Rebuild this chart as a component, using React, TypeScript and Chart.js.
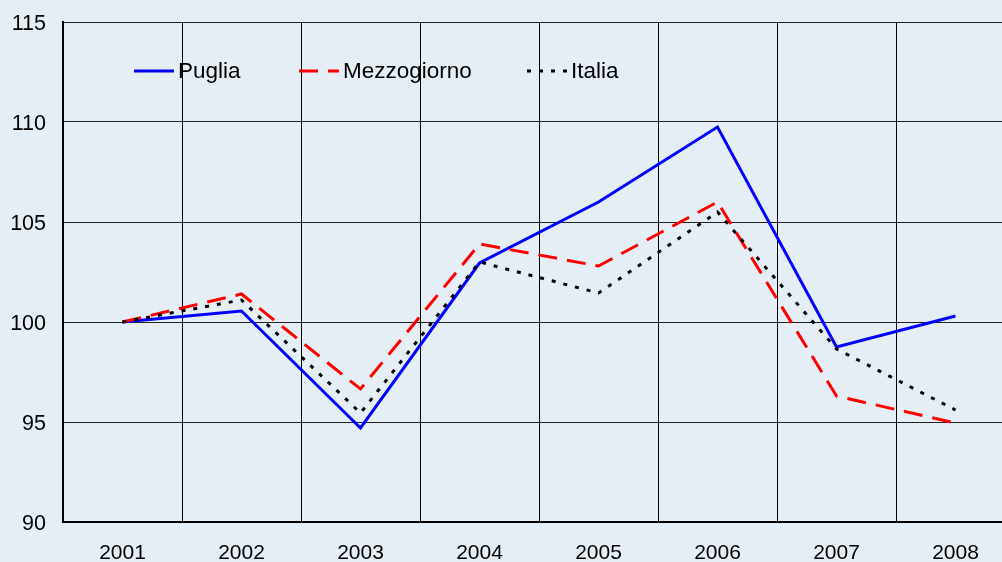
import React, { useEffect, useRef } from "react";
import { Chart, registerables } from "chart.js";

Chart.register(...registerables);

const years = ["2001", "2002", "2003", "2004", "2005", "2006", "2007", "2008"];
const puglia = [100, 100.55, 94.7, 102.95, 106.0, 109.75, 98.75, 100.3];
const mezzogiorno = [100, 101.4, 96.65, 103.9, 102.8, 106.0, 96.3, 94.95];
const italia = [100, 101.1, 95.45, 103.0, 101.45, 105.5, 98.65, 95.6];
const seriesNames = ["Puglia", "Mezzogiorno", "Italia"];

const BG = "#e6eef5";
const FONT = "'Liberation Sans', Arial, sans-serif";

export default function App() {
  const ref = useRef<HTMLCanvasElement | null>(null);

  useEffect(() => {
    const canvas = ref.current;
    if (!canvas) return;

    const bgPlugin = {
      id: "bgfill",
      beforeDraw(chart: any) {
        const ctx = chart.ctx;
        ctx.save();
        ctx.fillStyle = BG;
        ctx.fillRect(0, 0, chart.width, chart.height);
        ctx.restore();
      },
    };

    const legendPlugin = {
      id: "customLegend",
      afterDraw(chart: any) {
        const ctx = chart.ctx;
        const xs = [134, 299, 527];
        const y = 71;
        ctx.save();
        chart.data.datasets.forEach((ds: any, i: number) => {
          const x = xs[i];
          ctx.beginPath();
          ctx.strokeStyle = ds.borderColor;
          ctx.lineWidth = ds.borderWidth;
          ctx.setLineDash(ds.borderDash || []);
          ctx.moveTo(x, y);
          ctx.lineTo(x + 40, y);
          ctx.stroke();
          ctx.setLineDash([]);
          ctx.fillStyle = "#000";
          ctx.font = `22.5px ${FONT}`;
          ctx.textBaseline = "middle";
          ctx.textAlign = "left";
          ctx.fillText(ds.label, x + 44, y + 1);
        });
        ctx.restore();
      },
    };

    const chart = new Chart(canvas, {
      type: "line",
      data: {
        labels: years,
        datasets: [
          {
            label: seriesNames[0],
            data: puglia,
            borderColor: "#0000ff",
            borderWidth: 3,
            pointRadius: 0,
            tension: 0,
            fill: false,
            order: 2,
          },
          {
            label: seriesNames[1],
            data: mezzogiorno,
            borderColor: "#ff0000",
            borderWidth: 3,
            borderDash: [19, 10],
            pointRadius: 0,
            tension: 0,
            fill: false,
            order: 1,
          },
          {
            label: seriesNames[2],
            data: italia,
            borderColor: "#000000",
            borderWidth: 3,
            borderDash: [4, 8],
            pointRadius: 0,
            tension: 0,
            fill: false,
            order: 0,
          },
        ],
      },
      options: {
        animation: false,
        responsive: false,
        maintainAspectRatio: false,
        layout: { padding: { top: 22, right: 0, left: 0, bottom: 0 } },
        plugins: {
          legend: { display: false },
          tooltip: { enabled: false },
        },
        scales: {
          x: {
            offset: true,
            afterFit(scale: any) {
              scale.height = 40;
              scale.paddingLeft = 0;
              scale.paddingRight = 0;
            },
            grid: {
              offset: true,
              color: "#000",
              lineWidth: 1,
              drawTicks: false,
            },
            border: { color: "#000", width: 2 },
            ticks: {
              color: "#000",
              font: { family: FONT, size: 21 },
              padding: 19,
              maxRotation: 0,
            },
          },
          y: {
            min: 90,
            max: 115,
            afterFit(scale: any) {
              scale.width = 63;
              scale.paddingTop = 0;
              scale.paddingBottom = 0;
            },
            grid: { color: "#222", lineWidth: 1, drawTicks: false },
            border: { color: "#000", width: 2 },
            ticks: {
              stepSize: 5,
              color: "#000",
              font: { family: FONT, size: 21.5 },
              padding: 17,
              labelOffset: 2,
            },
          },
        },
      },
      plugins: [bgPlugin, legendPlugin],
    });

    return () => chart.destroy();
  }, []);

  return (
    <div
      style={{
        position: "fixed",
        left: 0,
        top: 0,
        width: 1002,
        height: 562,
        overflow: "hidden",
        background: BG,
      }}
    >
      <canvas ref={ref} width={1015} height={562} style={{ display: "block" }} />
    </div>
  );
}
